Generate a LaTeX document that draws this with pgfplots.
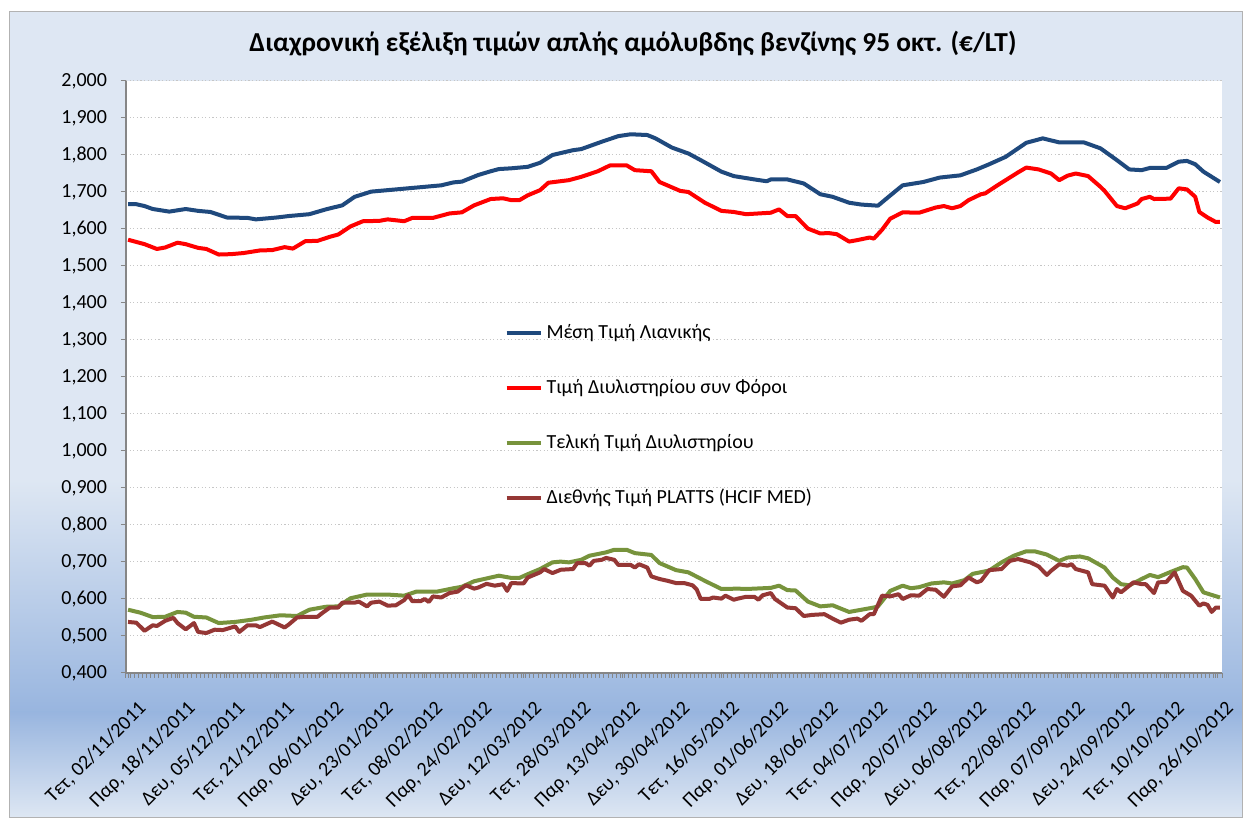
\documentclass[border=0pt]{standalone}
\usepackage{fontspec}
\setmainfont{Carlito}
\usepackage{pgfplots}
\pgfplotsset{compat=1.18}
\definecolor{cblue}{RGB}{31,73,125}
\definecolor{cred}{RGB}{255,0,0}
\definecolor{cgreen}{RGB}{119,147,60}
\definecolor{cdred}{RGB}{149,55,53}
\definecolor{bglight}{RGB}{222,231,243}
\definecolor{bgblue}{RGB}{152,181,223}
\definecolor{axgray}{RGB}{134,134,134}
\begin{document}
\begin{tikzpicture}[x=0.5pt,y=0.5pt]
\path[use as bounding box] (0,0) rectangle (1250,825);
\fill[white] (0,0) rectangle (1250,825);
\fill[bglight] (9,344) rectangle (1242,813);
\shade[top color=bglight,bottom color=bgblue] (9,112) rectangle (1242,345);
\shade[top color=bgblue,bottom color=bglight] (9,7) rectangle (1242,113);
\draw[gray!60, line width=0.5pt] (9,7) rectangle (1242,813);
\node[font=\bfseries\fontsize{13.7}{16}\selectfont] at (633,781) {Διαχρονική εξέλιξη τιμών απλής αμόλυβδης βενζίνης 95 οκτ. (€/LT)};
\begin{axis}[
  at={(63pt,76pt)}, anchor=south west,
  scale only axis, width=548pt, height=296pt,
  xmin=-0.5, xmax=265.5, ymin=0.4, ymax=2.0,
  axis background/.style={fill=white},
  axis lines*=left,
  axis line style={axgray, line width=0.6pt},
  ymajorgrids,
  major grid style={gray!45, dash pattern=on 0.6pt off 1.2pt, line width=0.5pt},
  tick align=outside,
  major tick length=2.5pt, minor tick length=2.5pt,
  tick style={axgray, line width=0.5pt},
  ytick={0.4,0.5,0.6,0.7,0.8,0.9,1.0,1.1,1.2,1.3,1.4,1.5,1.6,1.7,1.8,1.9,2.0},
  /pgf/number format/assume math mode=true,
  yticklabel={\pgfmathprintnumber[fixed,fixed zerofill,precision=3,use comma]{\tick}},
  yticklabel style={font=\fontsize{10}{12}\selectfont, xshift=-3.5pt},
  xtick={0,12,24,36,48,60,72,84,96,108,120,132,144,156,168,180,192,204,216,228,240,252,264},
  minor xtick={-0.5,0.5,...,265.5},
  xticklabels={{Τετ, 02/11/2011},{Παρ, 18/11/2011},{Δευ, 05/12/2011},{Τετ, 21/12/2011},{Παρ, 06/01/2012},{Δευ, 23/01/2012},{Τετ, 08/02/2012},{Παρ, 24/02/2012},{Δευ, 12/03/2012},{Τετ, 28/03/2012},{Παρ, 13/04/2012},{Δευ, 30/04/2012},{Τετ, 16/05/2012},{Παρ, 01/06/2012},{Δευ, 18/06/2012},{Τετ, 04/07/2012},{Παρ, 20/07/2012},{Δευ, 06/08/2012},{Τετ, 22/08/2012},{Παρ, 07/09/2012},{Δευ, 24/09/2012},{Τετ, 10/10/2012},{Παρ, 26/10/2012}},
  xticklabel style={rotate=45, anchor=east, font=\fontsize{10}{12}\selectfont, yshift=-15pt, xshift=-1pt},
  legend style={at={(0.345,0.597)}, anchor=north west, draw=none, fill=none, row sep=15pt, font=\fontsize{10}{12}\selectfont, inner sep=0pt},
  legend cell align=left,
  legend image code/.code={\draw[#1, line width=2pt] (0pt,0pt) -- (17pt,0pt);},
  every axis plot/.append style={line width=2pt, line join=round},
]
\addplot[cblue] coordinates {
(0,1.667)(2,1.667)(4,1.662)(6,1.654)(10,1.647)(14,1.654)(17,1.649)(20,1.646)(24,1.631)(29,1.630)(31,1.626)(36,1.631)(39,1.635)(44,1.640)(48,1.653)(52,1.664)(55,1.687)(59,1.701)(63,1.705)(68,1.710)(72,1.714)(76,1.718)(79,1.726)(81,1.728)(85,1.746)(88,1.756)(90,1.762)(93,1.764)(97,1.768)(100,1.779)(103,1.800)(108,1.813)(110,1.816)(115,1.836)(119,1.851)(122,1.856)(126,1.854)(128,1.845)(132,1.820)(136,1.804)(139,1.786)(144,1.755)(147,1.743)(152,1.734)(155,1.729)(156,1.734)(160,1.734)(164,1.723)(168,1.694)(171,1.687)(175,1.671)(178,1.666)(182,1.663)(186,1.700)(188,1.718)(193,1.727)(197,1.739)(202,1.745)(206,1.761)(209,1.775)(213,1.795)(218,1.833)(222,1.845)(226,1.834)(232,1.834)(236,1.818)(240,1.786)(243,1.761)(246,1.759)(248,1.765)(252,1.765)(255,1.782)(257,1.784)(259,1.775)(261,1.755)(265,1.727)
};
\addlegendentry{Μέση Τιμή Λιανικής}
\addplot[cred] coordinates {
(0,1.571)(4,1.559)(7,1.546)(9,1.550)(12,1.563)(14,1.559)(17,1.549)(19,1.546)(22,1.531)(25,1.532)(28,1.535)(32,1.542)(35,1.543)(38,1.551)(40,1.547)(43,1.567)(46,1.568)(49,1.579)(51,1.585)(54,1.607)(57,1.621)(61,1.622)(63,1.626)(67,1.621)(69,1.630)(74,1.630)(78,1.642)(81,1.645)(84,1.664)(88,1.681)(91,1.683)(93,1.678)(95,1.678)(97,1.691)(100,1.705)(102,1.725)(107,1.732)(110,1.741)(114,1.756)(117,1.772)(121,1.772)(123,1.759)(127,1.756)(129,1.727)(134,1.703)(136,1.700)(140,1.671)(144,1.649)(147,1.646)(150,1.640)(156,1.644)(158,1.653)(160,1.635)(162,1.635)(165,1.601)(168,1.588)(170,1.589)(172,1.586)(175,1.566)(177,1.570)(180,1.577)(181,1.574)(183,1.598)(185,1.628)(188,1.645)(192,1.644)(196,1.658)(198,1.662)(200,1.656)(202,1.662)(204,1.678)(207,1.694)(208,1.696)(211,1.718)(214,1.739)(216,1.753)(218,1.766)(221,1.761)(224,1.750)(226,1.732)(228,1.744)(230,1.750)(233,1.743)(236,1.714)(237,1.703)(240,1.662)(242,1.656)(245,1.669)(246,1.681)(248,1.687)(249,1.681)(253,1.682)(255,1.710)(257,1.707)(259,1.687)(260,1.646)(262,1.631)(264,1.619)(265,1.619)
};
\addlegendentry{Τιμή Διυλιστηρίου συν Φόροι}
\addplot[cgreen] coordinates {
(0,0.571)(3,0.563)(6,0.551)(9,0.552)(12,0.565)(14,0.563)(16,0.552)(19,0.550)(22,0.535)(26,0.538)(30,0.544)(33,0.550)(37,0.556)(41,0.554)(44,0.571)(48,0.579)(51,0.580)(54,0.602)(58,0.612)(63,0.612)(67,0.609)(70,0.620)(75,0.620)(79,0.629)(81,0.633)(84,0.648)(88,0.658)(90,0.663)(93,0.657)(95,0.657)(97,0.667)(100,0.681)(103,0.699)(105,0.701)(107,0.699)(110,0.706)(112,0.717)(116,0.726)(118,0.733)(121,0.733)(123,0.724)(127,0.719)(129,0.697)(133,0.678)(136,0.672)(140,0.649)(144,0.627)(148,0.628)(150,0.627)(156,0.630)(158,0.636)(160,0.624)(162,0.623)(165,0.593)(168,0.580)(171,0.583)(175,0.565)(178,0.571)(181,0.577)(182,0.580)(185,0.622)(188,0.636)(190,0.629)(192,0.632)(195,0.642)(198,0.645)(200,0.642)(203,0.651)(205,0.668)(209,0.677)(212,0.699)(215,0.717)(218,0.729)(220,0.729)(223,0.720)(226,0.703)(228,0.712)(231,0.715)(233,0.710)(237,0.685)(239,0.658)(241,0.640)(243,0.637)(246,0.654)(248,0.665)(250,0.659)(253,0.673)(256,0.686)(257,0.685)(259,0.654)(261,0.618)(263,0.611)(265,0.604)
};
\addlegendentry{Τελική Τιμή Διυλιστηρίου}
\addplot[cdred] coordinates {
(0,0.538)(2,0.536)(4,0.514)(6,0.529)(7,0.527)(9,0.541)(11,0.549)(12,0.535)(14,0.518)(16,0.535)(17,0.511)(19,0.508)(21,0.517)(23,0.516)(26,0.526)(27,0.511)(29,0.529)(31,0.529)(32,0.524)(35,0.539)(38,0.523)(39,0.531)(41,0.550)(43,0.552)(46,0.552)(47,0.561)(49,0.577)(51,0.577)(52,0.590)(55,0.590)(56,0.593)(58,0.580)(59,0.590)(61,0.593)(63,0.582)(65,0.583)(67,0.597)(68,0.610)(69,0.594)(71,0.594)(72,0.600)(73,0.592)(74,0.607)(76,0.604)(78,0.616)(80,0.620)(82,0.637)(84,0.628)(85,0.631)(87,0.641)(89,0.636)(91,0.640)(92,0.622)(93,0.643)(96,0.642)(97,0.658)(100,0.672)(101,0.681)(103,0.670)(105,0.679)(108,0.681)(109,0.697)(111,0.697)(112,0.690)(113,0.703)(115,0.706)(116,0.711)(118,0.706)(119,0.692)(122,0.692)(123,0.685)(124,0.694)(126,0.685)(127,0.661)(129,0.654)(131,0.649)(133,0.643)(135,0.643)(137,0.637)(138,0.626)(139,0.600)(141,0.600)(142,0.604)(144,0.601)(145,0.609)(147,0.598)(148,0.601)(150,0.606)(152,0.606)(153,0.598)(154,0.610)(156,0.616)(157,0.600)(160,0.577)(162,0.575)(164,0.554)(166,0.557)(169,0.559)(170,0.553)(171,0.547)(173,0.536)(175,0.544)(177,0.547)(178,0.541)(180,0.559)(181,0.559)(183,0.609)(185,0.607)(187,0.613)(188,0.600)(190,0.610)(192,0.609)(194,0.627)(196,0.625)(198,0.606)(200,0.634)(202,0.637)(204,0.658)(206,0.645)(207,0.649)(209,0.678)(212,0.681)(214,0.703)(216,0.708)(219,0.699)(221,0.688)(223,0.665)(224,0.676)(226,0.694)(228,0.690)(229,0.694)(230,0.681)(233,0.672)(234,0.640)(237,0.636)(239,0.604)(240,0.627)(241,0.618)(244,0.645)(246,0.640)(247,0.640)(249,0.616)(250,0.645)(252,0.646)(254,0.672)(256,0.622)(258,0.609)(260,0.582)(261,0.588)(262,0.584)(263,0.565)(264,0.577)(265,0.577)
};
\addlegendentry{Διεθνής Τιμή PLATTS (HCIF MED)}
\end{axis}
\end{tikzpicture}
\end{document}
